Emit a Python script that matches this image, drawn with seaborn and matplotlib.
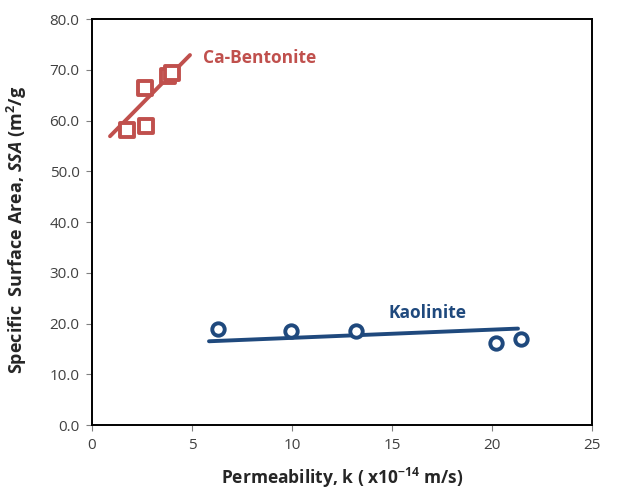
import numpy as np
import pandas as pd
import matplotlib
matplotlib.use("Agg")
import matplotlib.pyplot as plt
import seaborn as sns

# data
ca_k = [1.75, 2.7, 2.65, 3.8, 4.0]
ca_ssa = [58.1, 58.9, 66.4, 68.8, 69.4]
kao_k = [6.3, 9.95, 13.2, 20.2, 21.45]
kao_ssa = [18.9, 18.5, 18.5, 16.2, 16.9]

# trendline ends
ca_trend_k = [0.9, 4.9]
ca_trend_ssa = [56.9, 72.9]
kao_trend_k = [5.85, 21.3]
kao_trend_ssa = [16.5, 19.0]

x_ticks = [0, 5, 10, 15, 20, 25]
y_ticks = [0, 10, 20, 30, 40, 50, 60, 70, 80]

RED = "#C0504D"
BLUE = "#1F497D"

sns.set_style("ticks")
plt.rcParams["font.family"] = ["Open Sans", "DejaVu Sans"]
plt.rcParams["mathtext.fontset"] = "custom"
plt.rcParams["mathtext.it"] = "Open Sans:italic:bold"
plt.rcParams["mathtext.rm"] = "Open Sans:bold"
plt.rcParams["mathtext.bf"] = "Open Sans:bold"

fig = plt.figure(figsize=(6.25, 4.91), dpi=100)
ax = fig.add_axes([0.1472, 0.1344, 0.80, 0.8269])

ca = pd.DataFrame({"k": ca_k, "ssa": ca_ssa})
kao = pd.DataFrame({"k": kao_k, "ssa": kao_ssa})

sns.lineplot(x=ca_trend_k, y=ca_trend_ssa, color=RED, lw=2.8, ax=ax)
sns.lineplot(x=kao_trend_k, y=kao_trend_ssa, color=BLUE, lw=2.8, ax=ax)

sns.scatterplot(data=ca, x="k", y="ssa", marker="s", s=95, facecolor="white",
                edgecolor=RED, linewidth=2.8, ax=ax, zorder=3)
sns.scatterplot(data=kao, x="k", y="ssa", marker="o", s=80, facecolor="white",
                edgecolor=BLUE, linewidth=2.8, ax=ax, zorder=3)

ax.text(5.55, 72.3, "Ca-Bentonite", color=RED, fontsize=12.5, fontweight="bold",
        va="center", ha="left")
ax.text(14.8, 22.1, "Kaolinite", color=BLUE, fontsize=12.5, fontweight="bold",
        va="center", ha="left")

ax.set_xlim(0, 25)
ax.set_ylim(0, 80)
ax.set_xticks(x_ticks)
ax.set_yticks(y_ticks)
ax.set_yticklabels([f"{v:.1f}" for v in y_ticks])
ax.tick_params(labelsize=11, labelcolor="#404040", length=4, width=0.8, pad=5,
               color="#808080")

for sp in ax.spines.values():
    sp.set_visible(True)
    sp.set_color("black")
    sp.set_linewidth(1.4)

ax.set_xlabel("Permeability, k ( x10$^{\\mathrm{-14}}$ m/s)", fontsize=12.5,
              fontweight="bold", labelpad=10)
ax.set_ylabel("Specific  Surface Area, $\\mathit{SSA}$ (m$^{\\mathrm{2}}$/g",
              fontsize=13, fontweight="bold")
ax.yaxis.set_label_coords(-0.125, 0.48)

fig.savefig("out.png", dpi=100)
